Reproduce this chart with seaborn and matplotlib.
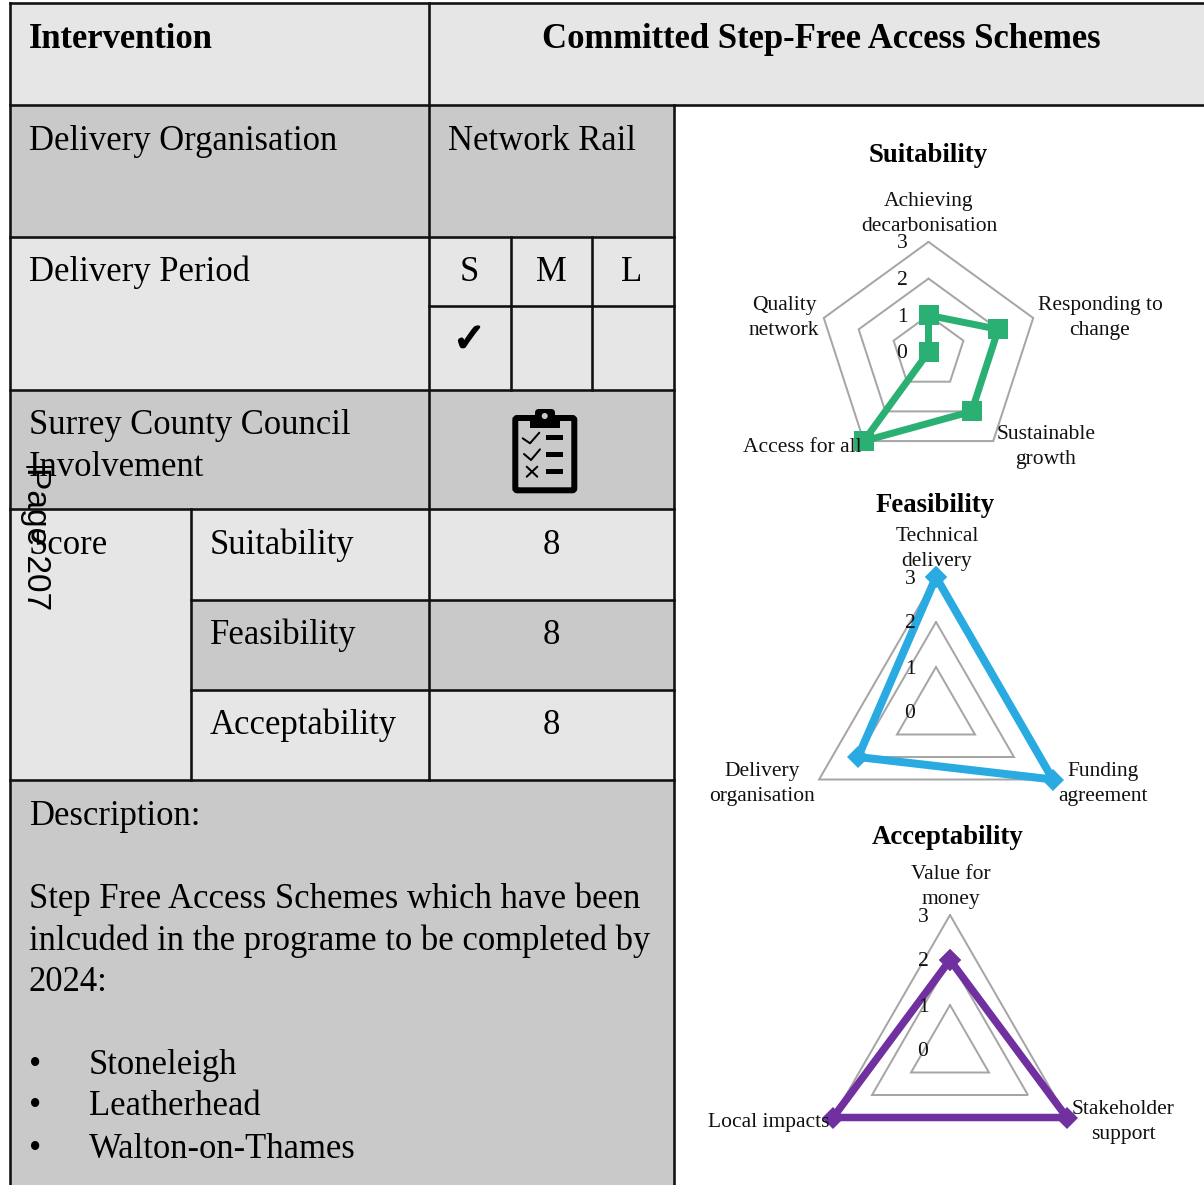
import numpy as np
import matplotlib
matplotlib.use("Agg")
import matplotlib.pyplot as plt
import matplotlib.patheffects as pe
from matplotlib.patches import Rectangle, FancyBboxPatch
import seaborn as sns

sns.set_theme(style="white")
plt.rcParams['font.family'] = ['Liberation Serif', 'DejaVu Sans']

W, H = 1204, 1185
LIGHT = '#E6E6E6'
DARK = '#C9C9C9'
GRID = '#A6A6A6'
px = 72 / 100  # points per pixel at dpi 100

# chart data
suit_labels = ['Achieving\ndecarbonisation', 'Responding to\nchange', 'Sustainable\ngrowth', 'Access for all', 'Quality\nnetwork']
suit_values = [1, 2, 2, 3, 0]
feas_labels = ['Technical\ndelivery', 'Funding\nagreement', 'Delivery\norganisation']
feas_values = [3, 3, 2]
acc_labels = ['Value for\nmoney', 'Stakeholder\nsupport', 'Local impacts']
acc_values = [2, 3, 3]
ticks = [0, 1, 2, 3]

# table text
body_lines = ['Description:', 'Step Free Access Schemes which have been',
              'inlcuded in the programe to be completed by', '2024:']
stations = ['Stoneleigh', 'Leatherhead', 'Walton-on-Thames']

fig = plt.figure(figsize=(W / 100, H / 100), dpi=100, facecolor='white')
ax = fig.add_axes([0, 0, 1, 1], zorder=0)
ax.set_xlim(0, W)
ax.set_ylim(H, 0)
ax.axis('off')
top = fig.add_axes([0, 0, 1, 1], zorder=5)
top.set_xlim(0, W)
top.set_ylim(H, 0)
top.axis('off')

# cell backgrounds (x0, y0, x1, y1, colour)
cells = [
    (10, 3, W, 105, LIGHT), (10, 105, 674, 237, DARK), (10, 237, 674, 390, LIGHT),
    (10, 390, 674, 509, DARK), (10, 509, 191, 780, LIGHT), (191, 509, 674, 600, LIGHT),
    (191, 600, 674, 690, DARK), (191, 690, 674, 780, LIGHT), (10, 780, 674, H, DARK),
]
for x0, y0, x1, y1, c in cells:
    ax.add_patch(Rectangle((x0, y0), x1 - x0, y1 - y0, fc=c, ec='none'))

# table rules
h_rules = [(3, 10, W), (105, 10, W), (237, 10, 674), (306, 429, 674), (390, 10, 674),
           (509, 10, 674), (600, 191, 674), (690, 191, 674), (780, 10, 674)]
v_rules = [(10, 3, H), (429, 3, 780), (674, 105, H), (511, 237, 390), (592, 237, 390), (191, 509, 780)]
for y, x0, x1 in h_rules:
    ax.plot([x0, x1], [y, y], color='#111111', lw=2.6 * px, solid_capstyle='projecting')
for x, y0, y1 in v_rules:
    ax.plot([x, x], [y0, y1], color='#111111', lw=2.6 * px, solid_capstyle='projecting')

FS = 34.7 * px
def cell_text(x, y, s, ha='left', weight='normal', size=FS):
    ax.text(x, y + 1, s, ha=ha, va='baseline', fontsize=size, fontweight=weight, color='black')

cell_text(29, 47, 'Intervention', weight='bold')
cell_text(821, 47, 'Committed Step-Free Access Schemes', ha='center', weight='bold')
cell_text(29, 149, 'Delivery Organisation')
cell_text(448, 149, 'Network Rail')
cell_text(29, 280, 'Delivery Period')
for x, s in zip([469, 551, 632], ['S', 'M', 'L']):
    cell_text(x, 280, s, ha='center')
ax.text(469.5, 351, '\u2713', ha='center', va='baseline', fontsize=28, family='DejaVu Sans', color='black',
        path_effects=[pe.withStroke(linewidth=1.6, foreground='black')])
cell_text(29, 433, 'Surrey County Council')
cell_text(29, 475, 'Involvement')
cell_text(29, 553, 'Score')
for y, name in zip([553, 643, 733], ['Suitability', 'Feasibility', 'Acceptability']):
    cell_text(210, y, name)
    cell_text(551, y, '8', ha='center')
for y, s in zip([824, 907, 949, 990], body_lines):
    cell_text(29, y, s)
for y, s in zip([1073, 1114, 1157], stations):
    cell_text(29, y, '\u2022')
    cell_text(89, y, s)

# clipboard icon
ax.add_patch(FancyBboxPatch((515.3, 418), 59, 72.3, boxstyle='round,pad=0,rounding_size=2',
                            fc='none', ec='black', lw=6 * px))
ax.add_patch(Rectangle((530, 416), 29.5, 11.7, fc='black', ec='none'))
ax.add_patch(FancyBboxPatch((535, 409), 20, 12, boxstyle='round,pad=0,rounding_size=4', fc='black', ec='none'))
ax.add_patch(plt.Circle((544.7, 416), 3, fc=DARK, ec='none'))
ax.plot([522.7, 530, 539.3], [438.3, 443.3, 432.7], color='black', lw=2 * px)
ax.plot([524, 531, 540], [454, 460, 449.3], color='black', lw=2 * px)
ax.plot([526.7, 537.3], [466.7, 476.7], color='black', lw=2 * px)
ax.plot([526.7, 537.3], [476.7, 466.7], color='black', lw=2 * px)
for y in [437.3, 454.3, 471.7]:
    ax.add_patch(Rectangle((546, y - 2.5), 17, 5, fc='black', ec='none'))


def draw_radar(values, labels, title, cx, cy, unit, color, marker, ms, lw, title_xy, label_xy, tick_x):
    R = unit * 3
    rax = fig.add_axes([(cx - R) / W, 1 - (cy + R) / H, 2 * R / W, 2 * R / H],
                       projection='polar', zorder=2)
    n = len(values)
    theta = [i * 2 * np.pi / n for i in range(n + 1)]
    rax.set_theta_zero_location('N')
    rax.set_theta_direction(-1)
    for t in ticks[1:]:
        rax.plot(theta, [t] * (n + 1), color=GRID, lw=2 * px, clip_on=False, solid_joinstyle='miter')
    df_vals = list(values) + [values[0]]
    sns.lineplot(x=theta, y=df_vals, ax=rax, sort=False, estimator=None, color=color,
                 linewidth=lw * px, marker=marker, markersize=ms, markeredgewidth=0, clip_on=False)
    rax.set_ylim(0, 3)
    rax.patch.set_visible(False)
    rax.set_axis_off()
    top.text(title_xy[0], title_xy[1], title, ha='center', va='baseline', fontsize=26.8 * px,
             fontweight='bold', color='black')
    for (x, y), s in zip(label_xy, labels):
        top.text(x, y + 2, s, ha='center', va='center', fontsize=21.5 * px, linespacing=1.37, color='#111111')
    for t in ticks:
        top.text(tick_x, cy - t * unit + 2, str(t), ha='center', va='center', fontsize=21.5 * px, color='#111111')


draw_radar(suit_values, suit_labels, 'Suitability', 928.5, 352, 36.7, '#2BB074', 's', 20 * px, 7,
           (928.5, 162), [(929, 212), (1100, 316), (1046, 445), (802, 445), (784, 316)], 902)
draw_radar(feas_values, feas_labels, 'Feasibility', 936, 712, 45, '#29ABE2', 'D', 15 * px, 8,
           (935, 512), [(937, 547), (1103, 782), (762, 782)], 910)
draw_radar(acc_values, acc_labels, 'Acceptability', 950, 1050, 45, '#7030A0', 'D', 15 * px, 7.5,
           (947.5, 844), [(951, 885), (1123, 1120), (769, 1120)], 923)

# page number stamp
top.text(27, 467, 'Page 207', rotation=270, rotation_mode='anchor', ha='left', va='baseline',
         fontsize=33.5 * px, family='Liberation Sans', color='black')
top.plot([27, 52], [467, 467], color='black', lw=2 * px)

fig.savefig('out.png', dpi=100)
plt.close(fig)
